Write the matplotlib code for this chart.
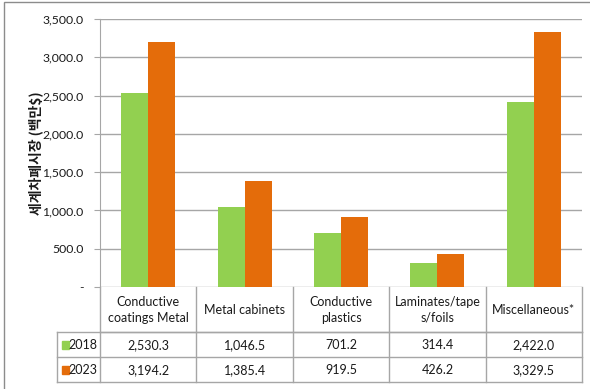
import matplotlib
matplotlib.use("Agg")
import matplotlib.pyplot as plt
from matplotlib.lines import Line2D
from matplotlib.patches import Rectangle
import numpy as np

categories = ["Conductive\ncoatings Metal", "Metal cabinets", "Conductive\nplastics",
              "Laminates/tape\ns/foils", "Miscellaneous*"]
series_names = ["2018", "2023"]
values_2018 = [2530.3, 1046.5, 701.2, 314.4, 2422.0]
values_2023 = [3194.2, 1385.4, 919.5, 426.2, 3329.5]
labels_2018 = ["2,530.3", "1,046.5", "701.2", "314.4", "2,422.0"]
labels_2023 = ["3,194.2", "1,385.4", "919.5", "426.2", "3,329.5"]
yticks = [0, 500, 1000, 1500, 2000, 2500, 3000, 3500]
ytick_labels = ["-", "500.0", "1,000.0", "1,500.0", "2,000.0", "2,500.0", "3,000.0", "3,500.0"]
ylabel = "세계차폐시장 (백만$)"

colors = ["#92D050", "#E46C0A"]
grid_c = "#A6A6A6"
txt_c = "#1a1a1a"

plt.rcParams['font.family'] = ['Lato', 'Noto Sans CJK KR', 'DejaVu Sans']

W, H = 590, 389
fig = plt.figure(figsize=(W / 100, H / 100), dpi=100)

# outer frame
fig.patches.append(Rectangle((4 / W, -0.05), 1.2, 1 - 2 / H + 0.05, transform=fig.transFigure,
                             fill=False, edgecolor="#8C8C8C", linewidth=1.0))

L, R = 100 / W, 582 / W
ax = fig.add_axes([L, 1 - 287 / H, R - L, (287 - 19) / H])
x = np.arange(len(categories))
bw = 0.28
ax.bar(x - bw / 2, values_2018, bw, color=colors[0], zorder=3)
ax.bar(x + bw / 2, values_2023, bw, color=colors[1], zorder=3)
ax.set_xlim(-0.5, len(categories) - 0.5)
ax.set_ylim(0, 3500)
ax.set_yticks(yticks)
ax.set_yticklabels(ytick_labels, fontsize=8.8, color=txt_c)
ax.yaxis.grid(True, color=grid_c, linewidth=1.0, zorder=0)
ax.set_axisbelow(True)
ax.set_xticks([])
for s in ["top", "right", "bottom"]:
    ax.spines[s].set_visible(False)
ax.spines["left"].set_color(grid_c)
ax.tick_params(axis="y", length=4, color=grid_c, pad=8)
ax.set_ylabel(ylabel, fontsize=10, fontweight="bold", family=['Noto Sans CJK KR'],
              color=txt_c)
ax.yaxis.set_label_coords(-0.118, 0.5)

# table
tax = fig.add_axes([L, 1 - 382 / H, R - L, (382 - 287) / H])
tax.set_xlim(-0.5, len(categories) - 0.5)
tax.set_ylim(95, 0)
tax.axis("off")
colw_px = (582 - 100) / len(categories)
leg_left = -0.5 - (100 - 57) / colw_px
lk = dict(color=grid_c, linewidth=1.0, clip_on=False)
tax.add_line(Line2D([-0.5, 4.5], [45, 45], **lk))
tax.add_line(Line2D([leg_left, 4.5], [45, 45], **lk))
tax.add_line(Line2D([leg_left, 4.5], [70, 70], **lk))
tax.add_line(Line2D([leg_left, 4.5], [95, 95], **lk))
tax.add_line(Line2D([leg_left, leg_left], [45, 95], **lk))
for i in range(len(categories) + 1):
    tax.add_line(Line2D([i - 0.5, i - 0.5], [0, 95], **lk))

for i, c in enumerate(categories):
    tax.text(i, 23, c, ha="center", va="center", fontsize=9, color=txt_c, linespacing=1.3)
    tax.text(i, 58, labels_2018[i], ha="center", va="center", fontsize=9, color=txt_c)
    tax.text(i, 83, labels_2023[i], ha="center", va="center", fontsize=9, color=txt_c)

for j, (name, yy) in enumerate(zip(series_names, [58, 83])):
    tax.add_patch(Rectangle((leg_left + 5 / colw_px, yy - 4), 7 / colw_px, 8,
                            color=colors[j], clip_on=False))
    tax.text(-0.5 - 3 / colw_px, yy, name, ha="right", va="center", fontsize=9, color=txt_c)

fig.savefig("out.png", dpi=100)
